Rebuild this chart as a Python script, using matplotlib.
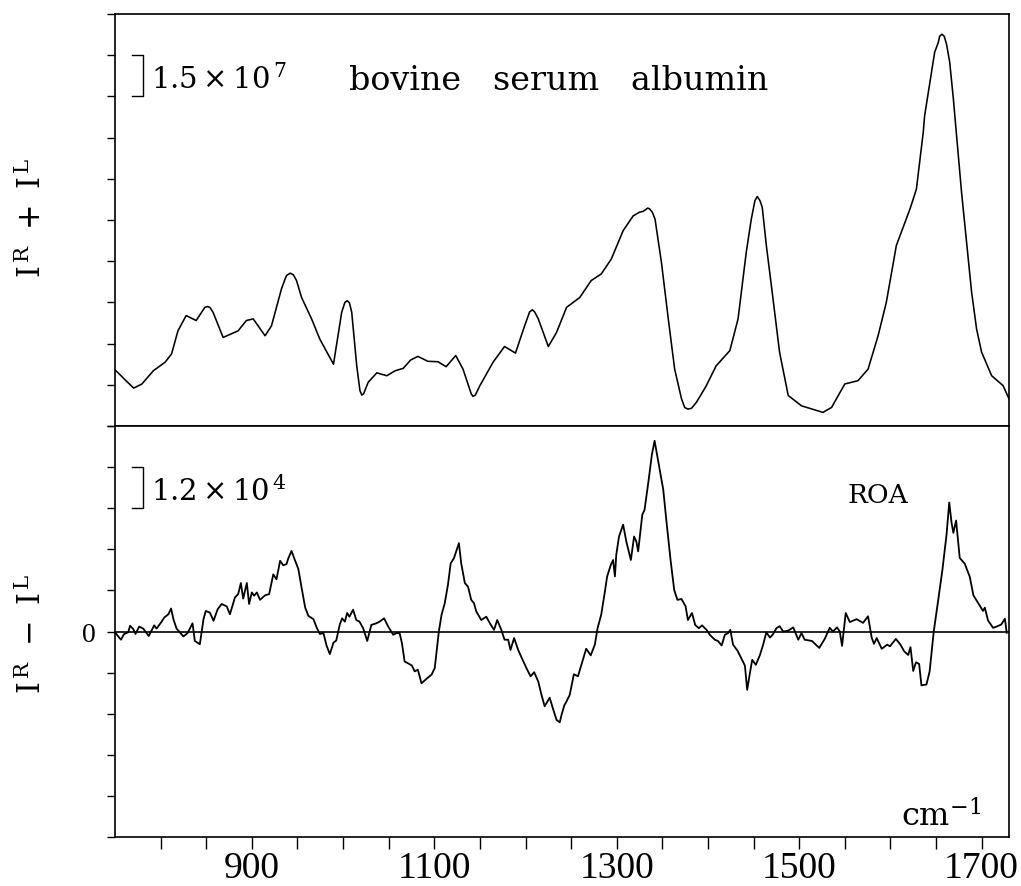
import numpy as np
import matplotlib.pyplot as plt
from matplotlib.ticker import FixedLocator, FixedFormatter, NullFormatter

plt.rcParams["font.family"] = "DejaVu Serif"
plt.rcParams["mathtext.fontset"] = "dejavuserif"

# Raman spectrum I^R + I^L, in units of the 1.5e7 scale bar
raman_wn = [750, 753, 762, 770.5, 779.5, 792, 805, 812, 819, 828, 839, 848.5, 851.5, 854,
            857.5, 868.5, 885, 894, 901.5, 914.5, 921.5, 932.5, 936.5, 938, 942, 945.5,
            949, 954.5, 965.5, 974.5, 989.5, 998.5, 1002, 1004.5, 1007, 1009.5, 1015,
            1018.5, 1020.5, 1022.5, 1027.5, 1037, 1048, 1057, 1066, 1074, 1082, 1093,
            1104, 1113, 1123.5, 1131.5, 1140.5, 1142.5, 1145, 1150, 1164.5, 1177, 1189,
            1199, 1204.5, 1207.5, 1210, 1214, 1225, 1234, 1245, 1259.5, 1272, 1283,
            1294, 1307, 1318, 1325, 1329, 1334, 1336, 1339, 1342, 1349, 1356.5, 1363.5,
            1371, 1374.5, 1378, 1382, 1387.5, 1398, 1409, 1424, 1433, 1442, 1447.5,
            1451.5, 1454, 1457, 1459.5, 1464, 1469.5, 1478.5, 1488, 1502.5, 1526, 1535.5,
            1550, 1564.5, 1575.5, 1586.5, 1595.5, 1606.5, 1621.5, 1628.5, 1636,
            1637.5, 1645, 1648.5, 1652.5, 1654, 1656.5, 1659, 1661.5, 1665, 1669,
            1678, 1689, 1694.5, 1700, 1711, 1723.5, 1730]
raman_val = [1.36, 1.30, 1.10, 0.92, 1.02, 1.34, 1.55, 1.75, 2.31, 2.68, 2.56, 2.88, 2.90, 2.88,
             2.76, 2.15, 2.31, 2.56, 2.60, 2.19, 2.43, 3.33, 3.57, 3.65, 3.71, 3.67,
             3.53, 3.12, 2.60, 2.11, 1.50, 2.76, 3.00, 3.04, 2.99, 2.76, 1.46,
             0.86, 0.75, 0.78, 1.06, 1.29, 1.22, 1.34, 1.40, 1.60, 1.69, 1.57,
             1.56, 1.44, 1.71, 1.38, 0.78, 0.72, 0.75, 0.98, 1.55, 1.93, 1.77,
             2.43, 2.77, 2.82, 2.77, 2.60, 1.93, 2.27, 2.88, 3.12, 3.53, 3.69,
             4.05, 4.74, 5.10, 5.19, 5.21, 5.29, 5.27, 5.19, 5.02, 3.97, 2.60, 1.38,
             0.66, 0.45, 0.41, 0.43, 0.58, 0.97, 1.46, 1.83, 2.60, 4.22, 5.02,
             5.47, 5.57, 5.47, 5.31, 4.38, 3.41, 1.79, 0.74, 0.49, 0.33, 0.45,
             1.02, 1.10, 1.38, 2.19, 3.00, 4.38, 5.27, 5.75, 7.13,
             7.53, 8.58, 9.07, 9.31, 9.46, 9.51, 9.46, 9.27, 8.83, 7.94,
             5.67, 3.25, 2.35, 1.79, 1.22, 0.98, 0.66]

# ROA spectrum I^R - I^L, in units of the 1.2e4 scale bar
roa_wn = [750, 756.5, 760, 764.5, 766.5, 770, 772.5, 776.5, 781, 787, 793, 795.5,
          800.5, 804, 808.5, 811.5, 814, 817.5, 821, 825, 829.5, 835, 837.5, 843,
          847, 849.5, 854, 858, 862.5, 867, 872.5, 876, 881.5, 885, 888, 890.5,
          894.5, 897, 900, 902.5, 905.5, 909, 914.5, 919, 923.5, 927, 931, 934.5,
          938, 940, 943.5, 947.5, 951, 954.5, 958.5, 962, 967.5, 971, 974.5, 978.5,
          982, 985.5, 989.5, 992.5, 996.5, 999, 1002, 1004.5, 1007, 1011, 1014.5,
          1018, 1022, 1026.5, 1031, 1036.5, 1040, 1045, 1049.5, 1055, 1058.5, 1062,
          1064.5, 1067.5, 1071, 1075.5, 1078.5, 1082, 1086, 1091.5, 1097, 1100.5,
          1102.5, 1105, 1108, 1111.5, 1115, 1118, 1121.5, 1124, 1127, 1129.5,
          1133.5, 1137, 1140.5, 1143.5, 1146, 1151.5, 1157, 1162, 1165.5, 1169,
          1173.5, 1177, 1181, 1183.5, 1187.5, 1192, 1196, 1201, 1205.5, 1209.5,
          1214, 1217.5, 1221, 1226.5, 1230, 1234, 1237.5, 1239.5, 1242.5, 1245,
          1248.5, 1253, 1257.5, 1261, 1266.5, 1271.5, 1276, 1279, 1283, 1287,
          1289.5, 1293.5, 1296, 1298, 1299.5, 1302.5, 1307, 1310.5, 1315.5, 1319,
          1321.5, 1323.5, 1328, 1330.5, 1335, 1338.5, 1341.5, 1345.5, 1351, 1354.5,
          1359, 1363, 1366.5, 1371, 1375.5, 1378, 1382.5, 1386, 1390, 1393.5,
          1398.5, 1402, 1407.5, 1411, 1415, 1418.5, 1422, 1424.5, 1427.5, 1432.5,
          1436.5, 1440.5, 1443, 1446, 1448.5, 1452.5, 1457, 1460.5, 1464, 1468,
          1471.5, 1475, 1478.5, 1482.5, 1488, 1493.5, 1499, 1502.5, 1506, 1514,
          1522, 1528, 1533.5, 1537, 1541.5, 1544.5, 1547, 1551, 1555.5, 1563,
          1570, 1575.5, 1579.5, 1582, 1585, 1590.5, 1596.5, 1599.5, 1606, 1611,
          1615, 1619.5, 1622, 1625, 1628, 1631.5, 1634, 1639.5, 1643, 1647.5,
          1652, 1657, 1661.5, 1664.5, 1667, 1669, 1672, 1676, 1681.5, 1687,
          1691, 1696, 1701.5, 1703.5, 1707, 1712.5, 1716.5, 1721.5, 1725.5, 1727.5]
roa_val = [-0.02, -0.20, -0.06, -0.02, 0.14, 0.06, -0.06, 0.12, 0.07, -0.11, 0.15, 0.07,
           0.22, 0.34, 0.42, 0.56, 0.30, 0.07, -0.02, -0.12, -0.04, 0.20, -0.23, -0.31,
           0.30, 0.50, 0.46, 0.26, 0.54, 0.67, 0.61, 0.42, 0.83, 0.91, 1.18, 0.80,
           1.18, 0.67, 0.95, 0.87, 0.95, 0.77, 0.88, 0.91, 1.39, 1.27, 1.72, 1.61,
           1.64, 1.78, 1.96, 1.72, 1.52, 1.07, 0.58, 0.38, 0.30, 0.10, -0.06, -0.04,
           -0.35, -0.55, -0.27, -0.22, 0.18, 0.32, 0.24, 0.45, 0.36, 0.53, 0.28,
           0.24, 0.08, -0.23, 0.16, 0.20, 0.24, 0.32, 0.12, -0.08, -0.04, -0.04,
           -0.28, -0.73, -0.77, -0.83, -0.97, -0.93, -1.26, -1.15, -1.05, -0.89,
           -0.49, 0.00, 0.41, 0.69, 1.14, 1.66, 1.78, 1.95, 2.15, 1.66,
           1.18, 1.09, 0.77, 0.69, 0.49, 0.28, 0.36, 0.16, 0.04, 0.28,
           0.04, -0.20, -0.20, -0.45, -0.16, -0.45, -0.65, -0.89, -1.09, -0.99,
           -1.22, -1.54, -1.82, -1.61, -1.87, -2.15, -2.21, -2.03, -1.80, -1.70,
           -1.54, -1.04, -1.09, -0.83, -0.42, -0.58, -0.32, 0.08, 0.41, 0.97,
           1.34, 1.62, 1.74, 1.34, 1.87, 2.31, 2.60, 2.19, 1.74, 2.31,
           2.19, 1.95, 2.84, 2.96, 3.69, 4.30, 4.64, 4.14, 3.45, 2.68,
           1.74, 1.01, 0.77, 0.79, 0.61, 0.28, 0.45, 0.16, 0.08, 0.15,
           0.04, -0.08, -0.20, -0.23, -0.34, -0.08, -0.04, 0.04, -0.32, -0.47,
           -0.65, -0.83, -1.42, -1.01, -0.69, -0.81, -0.57, -0.32, -0.02, -0.15,
           -0.06, 0.08, 0.13, 0.00, 0.02, 0.10, -0.20, -0.04, -0.20, -0.23,
           -0.40, -0.18, 0.09, 0.00, 0.10, 0.00, -0.35, 0.45, 0.23, 0.30,
           0.21, 0.37, -0.15, -0.30, -0.16, -0.42, -0.32, -0.36, -0.18, -0.32,
           -0.48, -0.57, -0.38, -0.96, -0.75, -0.79, -1.31, -1.29, -0.97, 0.00,
           0.70, 1.50, 2.35, 3.14, 2.65, 2.40, 2.70, 1.79, 1.65, 1.33,
           0.88, 0.70, 0.50, 0.58, 0.27, 0.09, 0.12, 0.17, 0.31, -0.03]

x_ticks = [800, 850, 900, 950, 1000, 1050, 1100, 1150, 1200, 1250, 1300, 1350,
           1400, 1450, 1500, 1550, 1600, 1650, 1700]
x_label_pos = [900, 1100, 1300, 1500, 1700]
x_label_txt = ["900", "1100", "1300", "1500", "1700"]
top_y_ticks = [0, 1, 2, 3, 4, 5, 6, 7, 8, 9, 10]
bot_y_ticks = [-5, -4, -3, -2, -1, 0, 1, 2, 3, 4, 5]

W, H = 1021, 887
fig = plt.figure(figsize=(W / 100, H / 100), dpi=100)
left, right = 115 / W, 1009 / W
ax1 = fig.add_axes([left, 1 - 427 / H, right - left, (427 - 15) / H])
ax2 = fig.add_axes([left, 1 - 838 / H, right - left, (838 - 427) / H])

XLIM = (750, 1730)
for ax in (ax1, ax2):
    ax.set_xlim(*XLIM)
    for s in ax.spines.values():
        s.set_linewidth(1.2)
    ax.tick_params(axis="y", direction="out", length=6, width=1.0, left=True, right=False)

ax1.plot(raman_wn, raman_val, color="black", lw=1.15, solid_joinstyle="round")
ax1.set_ylim(0, 10)
ax1.yaxis.set_major_locator(FixedLocator(top_y_ticks))
ax1.yaxis.set_major_formatter(NullFormatter())
ax1.tick_params(axis="x", bottom=False, labelbottom=False)

ax2.plot(roa_wn, roa_val, color="black", lw=1.3, solid_joinstyle="round")
ax2.axhline(0, color="black", lw=1.2)
ax2.set_ylim(-5, 5)
ax2.yaxis.set_major_locator(FixedLocator(bot_y_ticks))
ax2.yaxis.set_major_formatter(FixedFormatter(["" if t != 0 else "0" for t in bot_y_ticks]))
ax2.tick_params(axis="y", labelsize=20, pad=8)
for lab in ax2.get_yticklabels():
    lab.set_family("Liberation Serif")

ax2.xaxis.set_major_locator(FixedLocator(x_label_pos))
ax2.xaxis.set_major_formatter(FixedFormatter(x_label_txt))
ax2.xaxis.set_minor_locator(FixedLocator([t for t in x_ticks if t not in x_label_pos]))
ax2.tick_params(axis="x", which="both", direction="out", length=8.5, width=1.0, pad=1)
ax2.tick_params(axis="x", which="major", labelsize=27)
for lab in ax2.get_xticklabels():
    lab.set_family("Liberation Serif")

# scale bars (one tick interval each)
for ax, y0, label in ((ax1, 8, r"$1.5\times10^{\,7}$"), (ax2, 3, r"$1.2\times10^{\,4}$")):
    ax.plot([769, 781, 781, 769], [y0 + 1, y0 + 1, y0, y0], color="black", lw=1.0)
    ax.text(790, y0 + 0.2, label, fontsize=21, ha="left", va="baseline")

ax1.text(1007, 8.18, "bovine   serum   albumin", fontsize=24, ha="left", va="baseline")
ax2.text(1553, 3.16, "ROA", fontsize=19, ha="left", va="baseline")
ax2.text(1612, -4.72, r"cm$^{-1}$", fontsize=23, ha="left", va="baseline")

fig.text(32 / W, 1 - 218 / H, r"$\mathrm{I}^{\,\mathrm{R}}\ +\ \mathrm{I}^{\,\mathrm{L}}$",
         rotation=90, fontsize=22, ha="center", va="center")
fig.text(32 / W, 1 - 634 / H, r"$\mathrm{I}^{\,\mathrm{R}}\ -\ \mathrm{I}^{\,\mathrm{L}}$",
         rotation=90, fontsize=22, ha="center", va="center")

fig.savefig("out.png", dpi=100)
